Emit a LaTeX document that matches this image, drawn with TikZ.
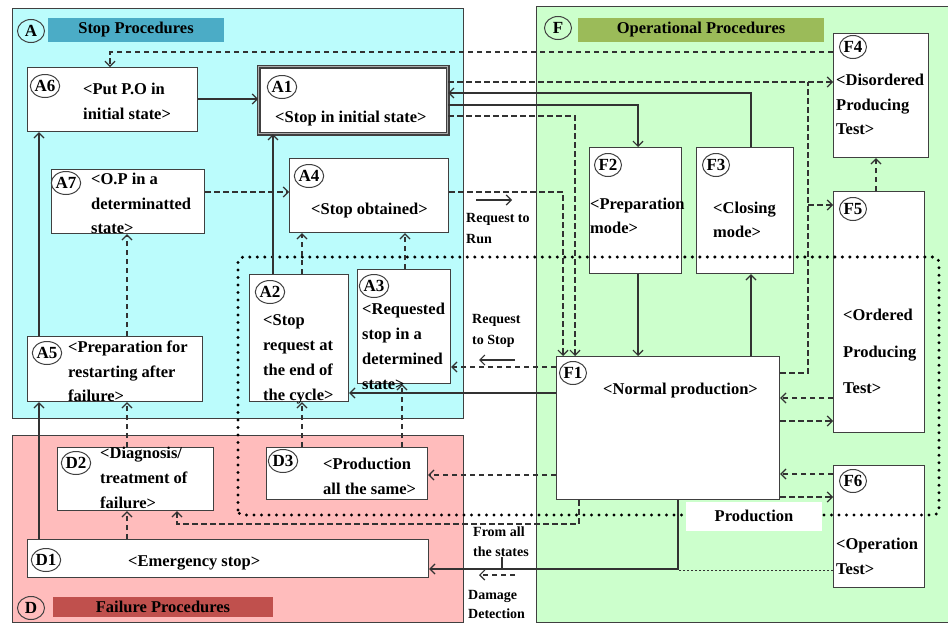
\documentclass[tikz,border=0pt]{standalone}
\usepackage{fontspec}
\setmainfont{Liberation Serif}
\usetikzlibrary{arrows.meta,shapes.geometric}
\definecolor{cyanbg}{RGB}{187,252,252}
\definecolor{greenbg}{RGB}{204,255,204}
\definecolor{pinkbg}{RGB}{255,188,188}
\definecolor{tealbar}{RGB}{75,172,198}
\definecolor{olivebar}{RGB}{155,187,89}
\definecolor{redbar}{RGB}{192,80,77}
\definecolor{edgecol}{RGB}{64,64,64}
\definecolor{wirecol}{RGB}{50,50,50}
\begin{document}
\begin{tikzpicture}[x=1pt,y=-1pt,
  panel/.style={draw=edgecol,line width=1.3pt,inner sep=0pt,anchor=north west},
  bar/.style={inner sep=0pt,text=black,font=\bfseries\fontsize{16.5}{20}\selectfont},
  box/.style={draw=edgecol,fill=white,line width=1.2pt,inner sep=0pt,anchor=north west},
  tag/.style={ellipse,draw=edgecol,line width=1pt,inner sep=0pt,minimum width=27pt,minimum height=23pt,font=\bfseries\fontsize{17}{17}\selectfont},
  txt/.style={inner sep=0pt,anchor=north west,align=left,font=\bfseries\fontsize{16.5}{25}\selectfont},
  lbl/.style={inner sep=0pt,anchor=north west,align=left,font=\bfseries\fontsize{14}{21}\selectfont},
  wire/.style={draw=wirecol,line width=1.2pt,-{Straight Barb[length=5pt,width=10pt]}},
  dsh/.style={wire,dash pattern=on 5.5pt off 3.5pt},
  dotline/.style={draw=black,line width=3.3pt,dash pattern=on 0pt off 7.5pt,line cap=round},
]
\useasboundingbox (0,0) rectangle (948,624);

% ---- procedure families ----
\node[panel,fill=cyanbg,minimum width=451pt,minimum height=410pt] (panelA) at (12,8) {};
\node[panel,fill=pinkbg,minimum width=451pt,minimum height=187pt] (panelD) at (12,435) {};
\node[panel,fill=greenbg,minimum width=420pt,minimum height=616pt] (panelF) at (536,6) {};

\node[bar,fill=tealbar,minimum width=176pt,minimum height=24pt] (barA) at (136,30) {Stop Procedures};
\node[bar,fill=olivebar,minimum width=246pt,minimum height=24pt] (barF) at (701,30) {Operational Procedures};
\node[bar,fill=redbar,minimum width=220pt,minimum height=20pt] (barD) at (163,607) {Failure Procedures};

\node[tag] (tagA) at (31,31) {A};
\node[tag] (tagF) at (558,28) {F};
\node[tag] (tagD) at (31,608) {D};

% ---- states ----
\node[box,minimum width=170pt,minimum height=64pt] (A6) at (27,67) {};
\node[box,draw=black!75,double=gray!65,double distance=1.8pt,line width=1.1pt,minimum width=189pt,minimum height=67pt] (A1) at (258,66) {};
\node[box,minimum width=153pt,minimum height=64pt] (A7) at (51,169) {};
\node[box,minimum width=159pt,minimum height=74pt] (A4) at (289,158) {};
\node[box,minimum width=99pt,minimum height=127pt] (A2) at (249,274) {};
\node[box,minimum width=93pt,minimum height=114pt] (A3) at (357,269) {};
\node[box,minimum width=175pt,minimum height=65pt] (A5) at (27,336) {};
\node[box,minimum width=156pt,minimum height=63pt] (D2) at (57,447) {};
\node[box,minimum width=161pt,minimum height=52pt] (D3) at (266,447) {};
\node[box,minimum width=401pt,minimum height=38pt] (D1) at (27,539) {};
\node[box,minimum width=95pt,minimum height=124pt] (F4) at (833,33) {};
\node[box,minimum width=92pt,minimum height=126pt] (F2) at (589,147) {};
\node[box,minimum width=97pt,minimum height=126pt] (F3) at (696,147) {};
\node[box,minimum width=91pt,minimum height=241pt] (F5) at (833,191) {};
\node[box,minimum width=223pt,minimum height=143pt] (F1) at (556,356) {};
\node[box,minimum width=91pt,minimum height=122pt] (F6) at (833,465) {};

% ---- production zone ----
\draw[dotline,rounded corners=5pt] (238,515) -- (238,257) -- (939,257) -- (939,515) -- cycle;
\node[fill=white,inner sep=0pt,minimum width=136pt,minimum height=29pt,font=\bfseries\fontsize{16.5}{20}\selectfont] (prod) at (754,516) {Production};

% ---- transitions ----
\draw[wire] (A6.east |- 0,99) -- (A1.west |- 0,99);
\draw[dsh] (F4.west |- 0,52) -| (A6.north -| 110,0);
\draw[dsh] (A1.east |- 0,82) -- (F4.west |- 0,82);
\coordinate (jF4) at (808,82);
\coordinate (jF5) at (808,205);
\draw[dsh,-] (F1.east |- 0,373) -| (jF4);
\draw[dsh] (jF5) -- (F5.west |- jF5);
\draw[wire] (F3.north -| 751,0) |- (A1.east |- 0,93);
\draw[wire] (A1.east |- 0,105) -| (F2.north -| 638,0);
\draw[dsh] (A1.east |- 0,116) -| (F1.north -| 575,0);
\draw[dsh] (A4.east |- 0,192) -| (F1.north -| 563,0);
\draw[wire] (F2.south -| 638,0) -- (F1.north -| 638,0);
\draw[wire] (F1.north -| 751,0) -- (F3.south -| 751,0);
\draw[dsh] (F1.west |- 0,367) -- (A3.east |- 0,367);
\draw[wire] (F1.west |- 0,393) -- (A2.east |- 0,393);
\draw[dsh] (F5.west |- 0,398) -- (F1.east |- 0,398);
\draw[dsh] (F1.east |- 0,421) -- (F5.west |- 0,421);
\draw[dsh] (F6.west |- 0,474) -- (F1.east |- 0,474);
\draw[dsh] (F1.east |- 0,497) -- (F6.west |- 0,497);
\draw[dsh] (F5.north -| 876,0) -- (F4.south -| 876,0);
\draw[dsh] (F1.west |- 0,475) -- (D3.east |- 0,475);
\draw[dsh] (F1.south -| 579,0) -- (579,524) -| (D2.south -| 177,0);
\coordinate (jD1) at (678,569);
\draw[wire] (F1.south -| jD1) -- (jD1) -- (D1.east |- jD1);
\draw[draw=wirecol,line width=1pt,dash pattern=on 2pt off 2pt] (F6.west |- 0,570) -- (jD1 |- 0,570);
\coordinate (tickTop) at (502,557);
\draw[draw=wirecol,line width=1.2pt] (tickTop) -- (tickTop |- jD1);
\draw[wire] (D1.north -| 39,0) -- (A5.south -| 39,0);
\draw[wire] (A5.north -| 39,0) -- (A6.south -| 39,0);
\draw[dsh] (D2.north -| 127,0) -- (A5.south -| 127,0);
\draw[dsh] (A5.north -| 127,0) -- (A7.south -| 127,0);
\draw[dsh] (A7.east |- 0,192) -- (A4.west |- 0,192);
\draw[wire] (A2.north -| 273,0) -- (A1.south -| 273,0);
\draw[dsh] (A2.north -| 302,0) -- (A4.south -| 302,0);
\draw[dsh] (A3.north -| 405,0) -- (A4.south -| 405,0);
\draw[dsh] (D3.north -| 302,0) -- (A2.south -| 302,0);
\draw[dsh] (D3.north -| 402,0) -- (A3.south -| 402,0);
\draw[dsh] (D1.north -| 127,0) -- (D2.south -| 127,0);

% ---- request indicators ----
\coordinate (runL) at (476,200);
\coordinate (runR) at (512,200);
\draw[wire] (runL) -- (runR);
\coordinate (stopR) at (515,360);
\coordinate (stopL) at (479,360);
\draw[wire] (stopR) -- (stopL);
\coordinate (dmgR) at (515,575);
\coordinate (dmgL) at (479,575);
\draw[dsh] (dmgR) -- (dmgL);

% ---- state texts ----
\node[txt,font=\bfseries\fontsize{16.5}{24.5}\selectfont] (tA6) at (83,83) {<Put P.O in\\initial state>};
\node[txt] (tA1) at (275,111) {<Stop in initial state>};
\node[txt,font=\bfseries\fontsize{16.5}{24.5}\selectfont] (tA7) at (91,173) {<O.P in a\\determinatted\\state>};
\node[txt] (tA4) at (311,203) {<Stop obtained>};
\node[txt] (tA2) at (263,314) {<Stop\\request at\\the end of\\the cycle>};
\node[txt] (tA3) at (362,303) {<Requested\\stop in a\\determined\\state>};
\node[txt,font=\bfseries\fontsize{16.5}{24.5}\selectfont] (tA5) at (68,341) {<Preparation for\\restarting after\\failure>};
\node[txt] (tD2) at (100,447) {<Diagnosis/\\treatment of\\failure>};
\node[txt] (tD3) at (323,458) {<Production\\all the same>};
\node[txt] (tD1) at (128,555) {<Emergency stop>};
\node[txt,font=\bfseries\fontsize{16.5}{23.5}\selectfont] (tF2) at (590,198) {<Preparation\\mode>};
\node[txt,font=\bfseries\fontsize{16.5}{24}\selectfont] (tF3) at (713,202) {<Closing\\mode>};
\node[txt,font=\bfseries\fontsize{16.5}{24.5}\selectfont] (tF4) at (836,74) {<Disordered\\Producing\\Test>};
\node[txt,font=\bfseries\fontsize{16.5}{36.5}\selectfont] (tF5) at (843,309) {<Ordered\\Producing\\Test>};
\node[txt] (tF1) at (603,383) {<Normal production>};
\node[txt] (tF6) at (836,538) {<Operation\\Test>};

\node[lbl] (lRun) at (466,213) {Request to\\Run};
\node[lbl] (lStop) at (472,314) {Request\\to Stop};
\node[lbl,font=\bfseries\fontsize{14}{20}\selectfont] (lAll) at (473,527) {From all\\the states};
\node[lbl,font=\bfseries\fontsize{14}{19.5}\selectfont] (lDmg) at (468,590) {Damage\\Detection};

% ---- state tags ----
\node[tag] (gA6) at (45,86) {A6};
\node[tag] (gA1) at (282,87) {A1};
\node[tag] (gA7) at (66,183) {A7};
\node[tag] (gA4) at (309,176) {A4};
\node[tag] (gA2) at (270,292) {A2};
\node[tag] (gA3) at (374,286) {A3};
\node[tag] (gA5) at (47,353) {A5};
\node[tag] (gD2) at (76,463) {D2};
\node[tag] (gD3) at (283,461) {D3};
\node[tag] (gD1) at (46,560) {D1};
\node[tag] (gF4) at (853,47) {F4};
\node[tag] (gF2) at (608,165) {F2};
\node[tag] (gF3) at (716,165) {F3};
\node[tag] (gF5) at (853,209) {F5};
\node[tag] (gF1) at (573,373) {F1};
\node[tag] (gF6) at (853,481) {F6};
\end{tikzpicture}
\end{document}
